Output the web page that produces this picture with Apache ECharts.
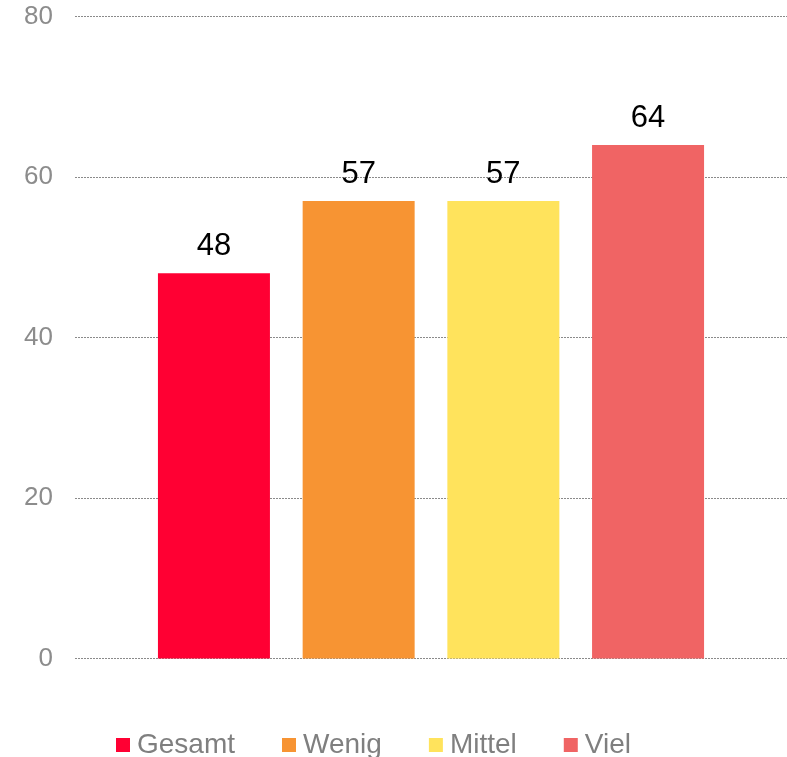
<!DOCTYPE html>
<html>
<head>
<meta charset="utf-8">
<script src="https://cdn.jsdelivr.net/npm/echarts@6/dist/echarts.min.js"></script>
<style>html,body{margin:0;padding:0;background:#fff;}#c{width:787px;height:757px;}</style>
</head>
<body>
<div id="c"></div>
<script>
const categories = [''];
const seriesNames = ['Gesamt', 'Wenig', 'Mittel', 'Viel'];
const seriesValues = [[48], [57], [57], [64]];
const seriesColors = ['#FF0033', '#F79433', '#FFE35C', '#F06464'];
const yTicks = { min: 0, max: 80, interval: 20 };

const chart = echarts.init(document.getElementById('c'), null, { renderer: 'canvas' });
const font = '"Liberation Sans", Arial, sans-serif';
chart.setOption({
  animation: false,
  color: seriesColors,
  grid: { left: 75, right: 0, top: 16.5, bottom: 98.5, containLabel: false },
  legend: {
    top: 731,
    left: 116,
    padding: 0,
    itemWidth: 14,
    itemHeight: 14,
    itemGap: 47,
    icon: 'rect',
    textStyle: { fontFamily: font, fontSize: 28, color: '#7f7f7f', padding: [0, 0, 0, 2] },
    data: seriesNames
  },
  xAxis: {
    type: 'category',
    data: categories,
    axisLine: { show: false },
    axisTick: { show: false },
    axisLabel: { show: false }
  },
  yAxis: {
    type: 'value',
    min: yTicks.min,
    max: yTicks.max,
    interval: yTicks.interval,
    axisLine: { show: false },
    axisTick: { show: false },
    axisLabel: { fontFamily: font, fontSize: 26, color: '#8c8c8c', margin: 22 },
    splitLine: { lineStyle: { type: [2, 1], color: '#8a8a8a', width: 1 } }
  },
  series: seriesNames.map((name, i) => ({
    name: name,
    type: 'bar',
    data: seriesValues[i],
    barWidth: 112,
    barGap: '29.2%',
    itemStyle: { color: seriesColors[i] },
    label: {
      show: true,
      position: 'top',
      distance: 11,
      fontFamily: font,
      fontSize: 31,
      color: '#000'
    }
  }))
});
</script>
</body>
</html>
